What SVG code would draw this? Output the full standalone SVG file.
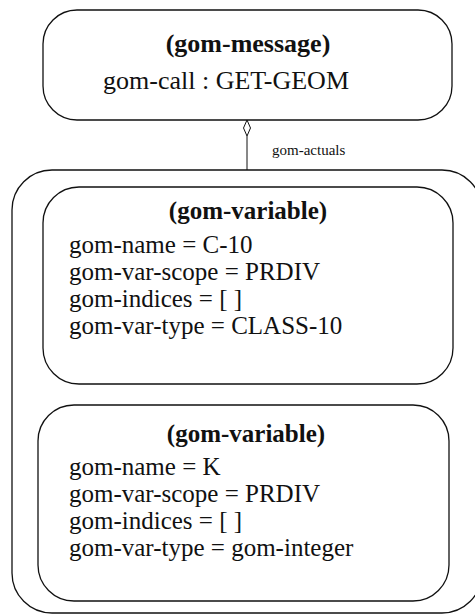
<svg xmlns="http://www.w3.org/2000/svg" width="475" height="615" viewBox="0 0 475 615">
<style>
.box{fill:none;stroke:#111;stroke-width:1.3}
.t{font-family:"Liberation Serif","Times New Roman",serif;font-size:25px;fill:#111}
.big{font-size:26px}
.b{font-weight:bold;text-anchor:middle}
.s{font-family:"Liberation Serif","Times New Roman",serif;font-size:15px;fill:#111}
.ln{stroke:#111;stroke-width:1;fill:none}
</style>
<rect width="475" height="615" fill="#fff"/>
<g id="gom-message">
<rect class="box" x="43" y="10" width="409" height="110" rx="34" ry="34"/>
<text class="t big b" x="248" y="52">(gom-message)</text>
<text class="t big" x="103" y="89">gom-call : GET-GEOM</text>
</g>
<g id="actuals-container">
<rect class="box" x="12" y="170" width="470" height="443" rx="40" ry="40"/>
</g>
<g id="gom-variable-1">
<rect class="box" x="43" y="187" width="410" height="197" rx="36" ry="36"/>
<text class="t b" x="248" y="219">(gom-variable)</text>
<text class="t" x="69" y="253">gom-name = C-10</text>
<text class="t" x="69" y="280">gom-var-scope = PRDIV</text>
<text class="t" x="69" y="307">gom-indices = [ ]</text>
<text class="t" x="69" y="334">gom-var-type = CLASS-10</text>
</g>
<g id="gom-variable-2">
<rect class="box" x="38" y="405" width="411" height="196" rx="36" ry="36"/>
<text class="t b" x="246" y="442">(gom-variable)</text>
<text class="t" x="69" y="475">gom-name = K</text>
<text class="t" x="69" y="502">gom-var-scope = PRDIV</text>
<text class="t" x="69" y="529">gom-indices = [ ]</text>
<text class="t" x="69" y="556">gom-var-type = gom-integer</text>
</g>
<g id="connectors">
<polygon class="ln" points="247,120 250.5,128 247,136 243.5,128" fill="#fff"/>
<line class="ln" x1="247" y1="136" x2="247" y2="170"/>
<text class="s" x="272" y="155">gom-actuals</text>
</g>
</svg>
